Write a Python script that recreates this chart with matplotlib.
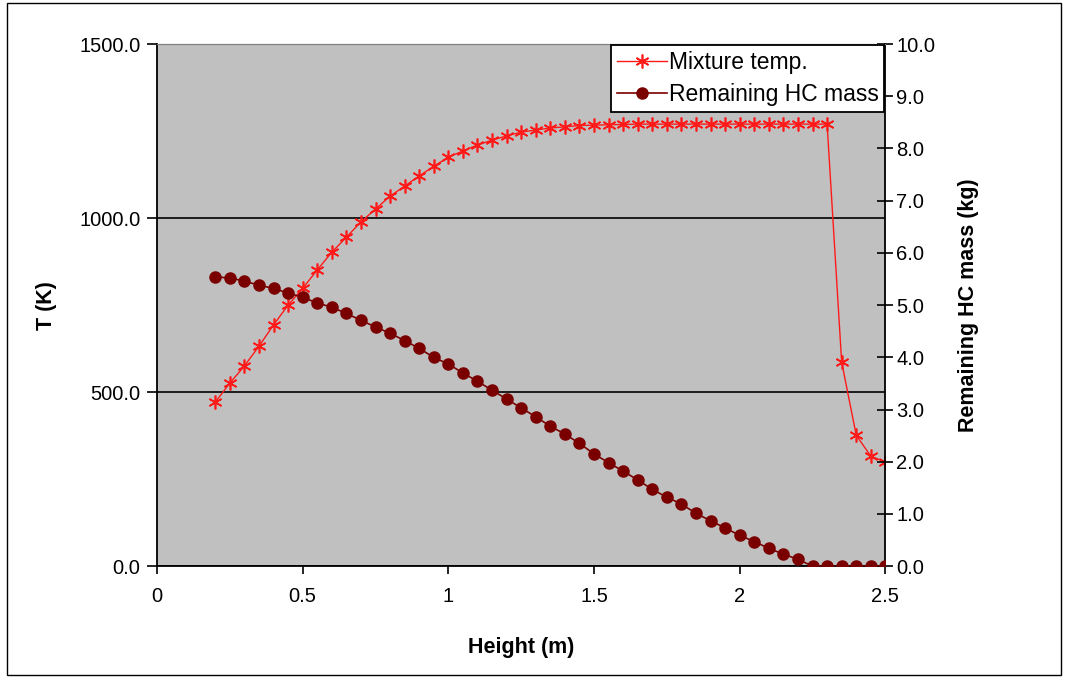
import numpy as np
import matplotlib
matplotlib.use("Agg")
import matplotlib.pyplot as plt
from matplotlib.patches import Rectangle

# Height positions (m), one point every 0.05 m
height = [0.2, 0.25, 0.3, 0.35, 0.4, 0.45, 0.5, 0.55, 0.6, 0.65,
          0.7, 0.75, 0.8, 0.85, 0.9, 0.95, 1.0, 1.05, 1.1, 1.15,
          1.2, 1.25, 1.3, 1.35, 1.4, 1.45, 1.5, 1.55, 1.6, 1.65,
          1.7, 1.75, 1.8, 1.85, 1.9, 1.95, 2.0, 2.05, 2.1, 2.15,
          2.2, 2.25, 2.3, 2.35, 2.4, 2.45, 2.5]

# Mixture temperature (K)
mixture_temp = [471, 526, 575, 632, 693, 750, 798, 851, 902, 945,
                989, 1026, 1063, 1092, 1121, 1149, 1175, 1193, 1210, 1224,
                1236, 1247, 1253, 1259, 1262, 1266, 1267, 1268, 1269, 1270,
                1270, 1270, 1270, 1270, 1270, 1270, 1270, 1270, 1270, 1270,
                1270, 1270, 1270, 586, 376, 316, 299]

# Remaining HC mass (kg)
hc_mass = [5.54, 5.52, 5.46, 5.38, 5.32, 5.23, 5.15, 5.04, 4.96, 4.84,
           4.71, 4.58, 4.46, 4.32, 4.17, 4.00, 3.87, 3.70, 3.54, 3.37,
           3.20, 3.03, 2.86, 2.68, 2.53, 2.35, 2.15, 1.98, 1.82, 1.65,
           1.47, 1.32, 1.19, 1.01, 0.87, 0.73, 0.59, 0.47, 0.34, 0.23,
           0.13, 0.0, 0.0, 0.0, 0.0, 0.0, 0.0]

t_ticks = [0, 500, 1000, 1500]
m_ticks = [0, 1, 2, 3, 4, 5, 6, 7, 8, 9, 10]
x_ticks = [0, 0.5, 1, 1.5, 2, 2.5]

plt.rcParams['font.family'] = ['Liberation Sans', 'DejaVu Sans']

fig = plt.figure(figsize=(10.68, 6.78), dpi=100)
ax = fig.add_axes([0.147, 0.165, 0.682, 0.770])
ax2 = ax.twinx()

ax.set_facecolor("#c0c0c0")

# Temperature on the left axis
l1, = ax.plot(height, mixture_temp, color="#ff1a1a", lw=1.0,
              marker=(6, 2, 0), markersize=10, markeredgewidth=1.2,
              label="Mixture temp.", zorder=3)

# Mass on the right axis
l2, = ax2.plot(height, hc_mass, color="#7a0000", lw=1.2,
               marker="o", markersize=8, markeredgecolor="#7a0000",
               label="Remaining HC mass", zorder=3)

ax.set_xlim(0, 2.5)
ax.set_ylim(0, 1500)
ax2.set_ylim(0, 10)

ax.set_xticks(x_ticks)
ax.set_xticklabels(["0", "0.5", "1", "1.5", "2", "2.5"])
ax.set_yticks(t_ticks)
ax.set_yticklabels([f"{v:.1f}" for v in t_ticks])
ax2.set_yticks(m_ticks)
ax2.set_yticklabels([f"{v:.1f}" for v in m_ticks])

ax.yaxis.grid(True, color="black", lw=1.2)
ax.set_axisbelow(True)

ax.tick_params(axis="x", labelsize=14.5, direction="out", length=6, width=1.2, pad=9)
ax.tick_params(axis="y", labelsize=14.5, direction="out", length=7, width=1.2, pad=5)
ax2.tick_params(axis="y", labelsize=14.5, direction="inout", length=12, width=1.2, pad=2)

for sp in ["left", "bottom"]:
    ax.spines[sp].set_linewidth(1.3)
ax.spines["top"].set_color("#808080")
ax2.spines["top"].set_color("#808080")
ax2.spines["right"].set_linewidth(1.3)
ax2.spines["left"].set_visible(False)
ax2.spines["bottom"].set_visible(False)
ax.spines["right"].set_visible(False)

ax.set_xlabel("Height (m)", fontsize=15.5, fontweight="bold", labelpad=22)
ax.set_ylabel("T (K)", fontsize=15.5, fontweight="bold", labelpad=16)
ax2.set_ylabel("Remaining HC mass (kg)", fontsize=15.5, fontweight="bold", labelpad=16)

leg = ax2.legend(handles=[l1, l2], loc="upper right", bbox_to_anchor=(1.0, 1.0),
                 fontsize=16.5, frameon=True, fancybox=False, framealpha=1,
                 edgecolor="black", borderpad=0.25, handlelength=2.2,
                 handletextpad=0.05, labelspacing=0.4, borderaxespad=0.05)
leg.get_frame().set_linewidth(1.3)

# Outer chart border
fig.patches.append(Rectangle((0.007, 0.005), 0.986, 0.99, transform=fig.transFigure,
                             fill=False, edgecolor="black", lw=1.0))

fig.savefig("out.png", dpi=100)
